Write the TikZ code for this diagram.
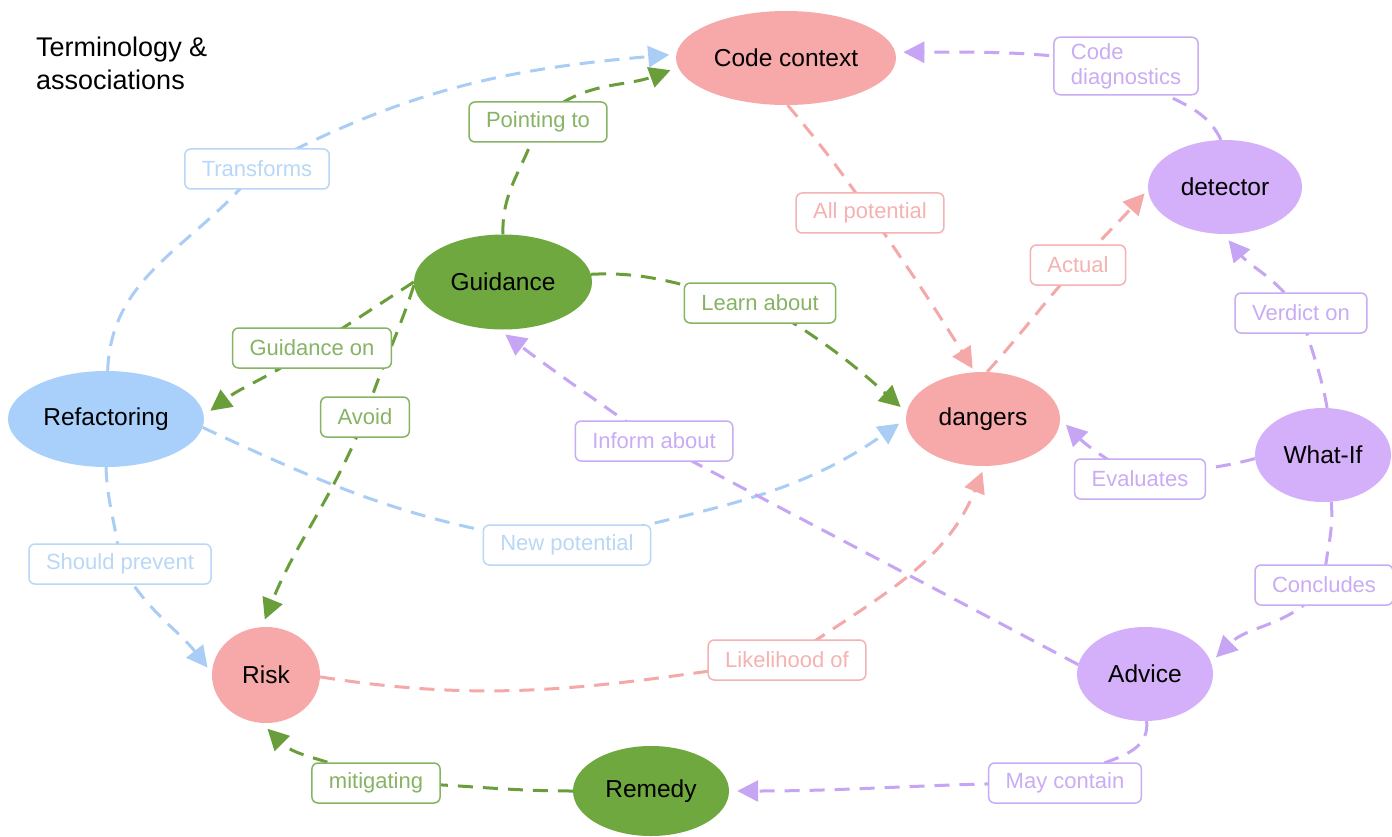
\documentclass[tikz,border=0pt]{standalone}
\usepackage{fontspec}
\setmainfont{Liberation Sans}
\usetikzlibrary{arrows.meta,shapes.geometric}
\pgfdeclarelayer{bg}
\pgfsetlayers{bg,main}
\definecolor{pinkfill}{RGB}{247,168,168}
\definecolor{greenfill}{RGB}{111,168,62}
\definecolor{bluefill}{RGB}{168,208,250}
\definecolor{purplefill}{RGB}{212,176,250}
\definecolor{pinkedge}{RGB}{244,168,168}
\definecolor{greenedge}{RGB}{106,158,58}
\definecolor{blueedge}{RGB}{170,205,245}
\definecolor{purpleedge}{RGB}{198,165,245}
\definecolor{pinklabel}{RGB}{245,178,178}
\definecolor{greenlabel}{RGB}{135,180,100}
\definecolor{bluelabel}{RGB}{185,215,247}
\definecolor{purplelabel}{RGB}{202,172,244}
\tikzset{
  concept/.style={ellipse, inner sep=0pt, text=black, font=\fontsize{24.5}{29}\selectfont},
  pk/.style={concept, fill=pinkfill},
  gr/.style={concept, fill=greenfill},
  bl/.style={concept, fill=bluefill},
  pu/.style={concept, fill=purplefill},
  lab/.style={draw, fill=white, rounded corners=6pt, line width=1.5pt, inner xsep=17pt, inner ysep=5pt, minimum height=40pt, font=\fontsize{22}{25}\selectfont},
  plab/.style={lab, draw=pinklabel, text=pinklabel},
  glab/.style={lab, draw=greenlabel, text=greenlabel},
  blab/.style={lab, draw=bluelabel, text=bluelabel},
  ulab/.style={lab, draw=purplelabel, text=purplelabel},
  conn/.style={line width=3pt, dash pattern=on 15pt off 10pt, -{Triangle[length=21pt,width=21pt]}, shorten >=7pt},
  pedge/.style={conn, draw=pinkedge},
  gedge/.style={conn, draw=greenedge},
  bedge/.style={conn, draw=blueedge},
  uedge/.style={conn, draw=purpleedge},
}
\begin{document}
\begin{tikzpicture}[x=1pt,y=1pt]
\useasboundingbox (0,0) rectangle (1392,-837);
% title
\node[anchor=north west, inner sep=0pt, align=left, font=\fontsize{27}{33}\selectfont] (title) at (36,-37) {Terminology \&\\associations};
% concepts
\node[pk, minimum width=220pt, minimum height=94pt] (cc) at (786,-58) {Code context};
\node[pu, minimum width=154pt, minimum height=94pt] (det) at (1225,-187) {detector};
\node[gr, minimum width=178pt, minimum height=95pt] (guid) at (503,-282) {Guidance};
\node[bl, minimum width=196pt, minimum height=96pt] (ref) at (106,-419) {Refactoring};
\node[pk, minimum width=154pt, minimum height=94pt] (dang) at (983,-419) {dangers};
\node[pu, minimum width=136pt, minimum height=94pt] (wif) at (1323,-455) {What-If};
\node[pk, minimum width=108pt, minimum height=96pt] (risk) at (266,-675) {Risk};
\node[pu, minimum width=136pt, minimum height=94pt] (adv) at (1145,-674) {Advice};
\node[gr, minimum width=156pt, minimum height=90pt] (rem) at (651,-791) {Remedy};
% labels
\node[blab] (tr) at (257,-169) {Transforms};
\node[glab] (pt) at (538,-122) {Pointing to};
\node[plab] (ap) at (870,-213) {All potential};
\node[ulab, align=left, inner ysep=6pt] (cd) at (1126,-66) {Code\\diagnostics};
\node[plab] (act) at (1078,-265) {Actual};
\node[glab] (la) at (760,-303) {Learn about};
\node[ulab] (vo) at (1301,-313) {Verdict on};
\node[glab] (go) at (312,-348) {Guidance on};
\node[glab] (av) at (365,-417) {Avoid};
\node[ulab] (ia) at (654,-441) {Inform about};
\node[ulab] (ev) at (1140,-479) {Evaluates};
\node[blab] (np) at (567,-545) {New potential};
\node[blab] (sp) at (120,-564) {Should prevent};
\node[ulab] (co) at (1324,-585) {Concludes};
\node[plab] (lo) at (787,-660) {Likelihood of};
\node[glab] (mit) at (376,-783) {mitigating};
\node[ulab] (mc) at (1065,-783) {May contain};
% connectors
\begin{pgfonlayer}{bg}
\fill[white] (0,0) rectangle (1392,-837);
\draw[bedge] (ref.88) to[out=88,in=232] (tr.center) to[out=28,in=185] (cc.178);
\draw[gedge, shorten >=8pt] (guid.90) to[out=92,in=255] (pt.center) to[out=45,in=200] (cc.185);
\draw[pedge, shorten >=4pt] (cc.-88) to[out=-50,in=125] (ap.center) to[out=-55,in=122] (dang.100);
\draw[pedge, shorten >=5pt] (dang.85) to[out=48,in=228] (act.center) to[out=48,in=228] (det.182);
\draw[gedge, shorten >=8pt] (guid.5) to[out=3,in=170] (la.center) to[out=-30,in=138] (dang.175);
\draw[gedge, shorten >=8pt] (guid.180) to[out=213,in=33] (go.center) to[out=215,in=37] (ref.2);
\draw[gedge, shorten >=8pt] (guid.182) to[out=252,in=72] (av.center) to[out=248,in=68] (risk.95);
\draw[bedge, shorten >=8pt] (ref.-5) to[out=-25,in=172] (np.center) to[out=15,in=215] (dang.180);
\draw[bedge] (ref.-90) to[out=-88,in=95] (sp.center) to[out=-60,in=128] (risk.178);
\draw[pedge, shorten >=6pt] (risk.-2) to[out=-9,in=188] (lo.center) to[out=35,in=248] (dang.272);
\draw[uedge, shorten >=8pt] (adv.172) to[out=152,in=-28] (ia.center) to[out=145,in=-37] (guid.265);
\draw[gedge, shorten >=8pt] (rem.180) to[out=180,in=0] (mit.center) to[out=150,in=-45] (risk.-95);
\draw[uedge, shorten >=8pt] (adv.-88) to[out=-85,in=40] (mc.center) to[out=180,in=0] (rem.0);
\draw[uedge] (wif.-80) to[out=-85,in=88] (co.center) to[out=232,in=45] (adv.10);
\draw[uedge, shorten >=8pt] (wif.183) to[out=195,in=12] (ev.center) to[out=150,in=-45] (dang.0);
\draw[uedge, shorten >=8pt] (wif.85) to[out=100,in=-75] (vo.center) to[out=125,in=-50] (det.-92);
\draw[uedge, shorten >=8pt] (det.95) to[out=115,in=-50] (cd.center) to[out=170,in=0] (cc.3);
\end{pgfonlayer}
\end{tikzpicture}
\end{document}
